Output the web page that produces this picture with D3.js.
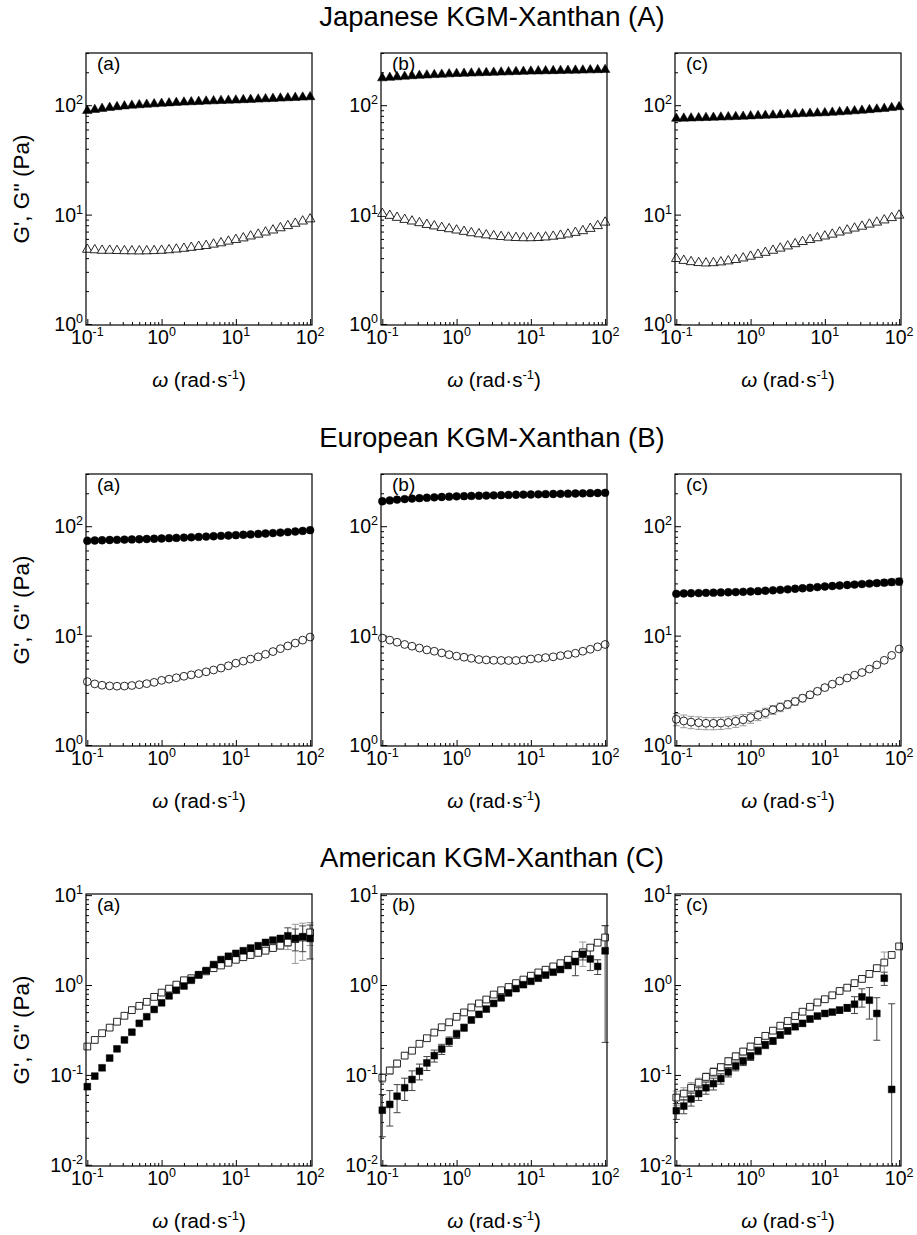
<!DOCTYPE html>
<html><head><meta charset="utf-8">
<script src="https://cdn.jsdelivr.net/npm/d3@7"></script>
<style>
body{margin:0;background:#fff}
text{font-family:"Liberation Sans",Arial,Helvetica,sans-serif;fill:#000}
</style>
</head><body>
<svg id="c" width="917" height="1235"></svg>
<script>
// ---------- data ----------
const freq = [0.1,0.126,0.158,0.2,0.251,0.316,0.398,0.501,0.631,0.794,1,1.26,1.58,2,2.51,3.16,3.98,5.01,6.31,7.94,10,12.6,15.8,20,25.1,31.6,39.8,50.1,63.1,79.4,100];
const rowTitles = ["Japanese KGM-Xanthan (A)", "European KGM-Xanthan (B)", "American KGM-Xanthan (C)"];
const panelLetters = ["(a)", "(b)", "(c)"];
const xTickExp = [-1, 0, 1, 2];
const yTickExpAB = [0, 1, 2];
const yTickExpC = [-2, -1, 0, 1];
const xLabel = ["\u03C9", " (rad\u00B7s", "-1", ")"];
const yLabel = "G', G'' (Pa)";

// Japanese (A)
const A_a_Gp  = [89,91,93,95,96.5,98,99.5,100.5,101.5,102.5,103.5,104.5,105.5,106.3,107,107.8,108.5,109.2,109.9,110.5,111,111.8,112.5,113.2,114,114.8,115.6,116.4,117.2,118,119];
const A_a_Gpp = [4.8,4.75,4.7,4.7,4.68,4.66,4.65,4.64,4.65,4.67,4.7,4.75,4.82,4.9,5.0,5.1,5.2,5.35,5.5,5.7,5.9,6.1,6.35,6.6,6.9,7.2,7.55,7.9,8.3,8.7,9.1];
const A_b_Gp  = [177,179,181,183,185,186.5,188,189.5,191,192.5,194,195,196,197,198,199,200,201,202,203,204,204.7,205.4,206,206.7,207.4,208,208.7,209.4,210.2,211];
const A_b_Gpp = [10.2,9.8,9.4,9.0,8.7,8.4,8.1,7.85,7.6,7.4,7.2,7.0,6.8,6.65,6.5,6.38,6.28,6.2,6.15,6.12,6.12,6.15,6.22,6.32,6.45,6.62,6.85,7.1,7.45,7.9,8.5];
const A_c_Gp  = [75.5,75.8,76.1,76.5,76.8,77.2,77.6,78,78.4,78.9,79.5,80,80.5,81,81.6,82.2,82.8,83.4,84,84.5,85,85.8,86.6,87.5,88.5,89.5,90.6,91.8,93,94.7,96.5];
const A_c_Gpp = [3.95,3.8,3.7,3.63,3.6,3.62,3.68,3.76,3.87,4.0,4.15,4.32,4.5,4.7,4.92,5.15,5.4,5.65,5.9,6.12,6.35,6.6,6.9,7.2,7.5,7.8,8.15,8.5,8.9,9.35,9.85];

// European (B)
const B_a_Gp  = [73.5,74,74.4,74.8,75.1,75.4,75.7,76,76.4,76.8,77.2,77.7,78.2,78.7,79.2,79.8,80.4,81,81.6,82.2,82.8,83.5,84.2,85,85.8,86.6,87.5,88.4,89.4,90.6,92];
const B_a_Gpp = [3.8,3.62,3.52,3.47,3.45,3.46,3.5,3.56,3.64,3.74,3.9,4.0,4.12,4.25,4.38,4.5,4.67,4.85,5.05,5.3,5.6,5.85,6.1,6.4,6.75,7.15,7.6,8.05,8.55,9.1,9.7];
const B_b_Gp  = [169,172,175,177,179,180.5,182,183.5,185,186.3,187.5,188.3,189,189.8,190.6,191.4,192.2,193,193.8,194.5,195,195.7,196.4,197,197.7,198.4,199,199.7,200.4,201.2,202];
const B_b_Gpp = [9.5,9.1,8.7,8.3,8.0,7.7,7.4,7.2,6.95,6.7,6.5,6.35,6.2,6.05,6.0,5.95,5.93,5.92,5.93,6.0,6.12,6.2,6.3,6.4,6.55,6.7,6.9,7.2,7.5,7.9,8.3];
const B_c_Gp  = [24.1,24.3,24.4,24.5,24.6,24.7,24.8,24.9,25.0,25.15,25.3,25.5,25.7,25.95,26.2,26.5,26.8,27.1,27.4,27.75,28.1,28.4,28.7,29,29.3,29.6,29.9,30.2,30.5,30.85,31.2];
const B_c_Gpp = [1.72,1.66,1.62,1.6,1.58,1.58,1.59,1.61,1.65,1.7,1.78,1.87,1.97,2.1,2.22,2.35,2.5,2.68,2.88,3.1,3.35,3.6,3.85,4.1,4.35,4.6,4.95,5.4,5.95,6.6,7.55];
const B_c_Gp_err  = [0.4,0.4,0.4,0.4,0.4,0.4,0.4,0.4,0.4,0.4,0.5,0.5,0.5,0.5,0.5,0.6,0.6,0.6,0.7,0.7,0.8,0.8,0.9,1.0,1.1,1.2,1.3,1.5,1.7,1.9,2.2];
const B_c_Gpp_err = [0.22,0.22,0.21,0.21,0.2,0.2,0.2,0.2,0.2,0.2,0.2,0.2,0.2,0.2,0.2,0.2,0.2,0.2,0.2,0.2,0.2,0.2,0.2,0.2,0.2,0.2,0.2,0.2,0.2,0.25,0.3];

// American (C)
const C_a_Gp  = [0.074,0.097,0.12,0.154,0.195,0.245,0.299,0.375,0.444,0.535,0.634,0.757,0.875,0.975,1.13,1.30,1.45,1.69,1.92,2.09,2.25,2.41,2.58,2.74,2.98,3.16,3.30,3.53,3.3,3.45,3.3];
const C_a_Gpp = [0.207,0.245,0.291,0.336,0.391,0.455,0.526,0.587,0.65,0.738,0.824,0.912,1.01,1.13,1.19,1.30,1.42,1.54,1.65,1.77,1.91,2.04,2.16,2.28,2.41,2.58,2.74,2.98,3.24,3.38,3.85];
const C_a_Gp_err  = [0.005,0.006,0.007,0.008,0.01,0.012,0.014,0.016,0.018,0.02,0.025,0.03,0.03,0.035,0.04,0.04,0.05,0.05,0.06,0.06,0.07,0.08,0.08,0.09,0.1,0.15,0.25,0.8,0.9,1.1,1.35];
const C_a_Gpp_err = [0.01,0.01,0.012,0.012,0.014,0.015,0.016,0.018,0.02,0.02,0.02,0.025,0.025,0.03,0.03,0.03,0.035,0.035,0.04,0.04,0.05,0.05,0.06,0.06,0.08,0.1,0.2,0.5,1.5,1.5,1.1];
const C_b_Gp  = [0.0405,0.047,0.058,0.072,0.089,0.11,0.136,0.164,0.194,0.236,0.284,0.336,0.409,0.472,0.54,0.624,0.72,0.817,0.913,1.01,1.1,1.19,1.29,1.39,1.49,1.65,1.82,2.2,1.95,1.61,2.41];
const C_b_Gpp = [0.093,0.112,0.134,0.164,0.186,0.222,0.256,0.296,0.339,0.385,0.443,0.496,0.563,0.624,0.69,0.784,0.875,0.951,1.05,1.15,1.27,1.38,1.48,1.61,1.75,1.91,2.16,2.31,2.61,2.96,3.38];
const C_b_Gp_err  = [0.02,0.02,0.02,0.02,0.022,0.022,0.024,0.025,0.025,0.028,0.03,0.03,0.03,0.03,0.03,0.03,0.035,0.035,0.04,0.04,0.04,0.05,0.05,0.06,0.08,0.1,0.55,0.3,0.5,0.3,2.18];
const C_b_Gpp_err = [0.01,0.01,0.012,0.012,0.012,0.014,0.015,0.016,0.018,0.02,0.02,0.02,0.025,0.025,0.03,0.03,0.03,0.035,0.035,0.04,0.04,0.05,0.05,0.05,0.06,0.08,0.2,0.7,0.2,0.2,1.17];
const C_c_Gp  = [0.04,0.045,0.054,0.062,0.072,0.08,0.091,0.108,0.125,0.142,0.161,0.186,0.216,0.239,0.279,0.309,0.344,0.375,0.419,0.452,0.483,0.5,0.526,0.558,0.612,0.738,0.678,0.483,1.19,0.069,null];
const C_c_Gpp = [0.056,0.062,0.072,0.082,0.095,0.108,0.122,0.142,0.161,0.182,0.207,0.239,0.272,0.311,0.353,0.398,0.452,0.505,0.573,0.64,0.695,0.769,0.859,0.935,1.05,1.17,1.33,1.54,1.78,2.16,2.69];
const C_c_Gp_err  = [0.008,0.008,0.009,0.01,0.011,0.012,0.012,0.013,0.014,0.015,0.016,0.018,0.02,0.02,0.022,0.024,0.025,0.027,0.03,0.03,0.03,0.03,0.04,0.05,0.13,0.17,0.26,0.24,0.2,0.55,0];
const C_c_Gpp_err = [0.01,0.01,0.01,0.01,0.01,0.012,0.012,0.014,0.015,0.016,0.018,0.02,0.02,0.022,0.025,0.028,0.03,0.03,0.035,0.04,0.04,0.045,0.05,0.06,0.07,0.08,0.1,0.12,0.55,0.1,0.1];

// ---------- layout ----------
const svg = d3.select("#c");
const panelLefts = [86, 381, 675], panelW = 226, panelH = 272;
const rowTops = [53, 474, 894];
const xDomain = [0.096, 106];

const rows = [
  { title: rowTitles[0], sym: d3.symbolTriangle, size: 40, yDom: [0.98, 300], yExp: yTickExpAB,
    panels: [[A_a_Gp, A_a_Gpp, null, null], [A_b_Gp, A_b_Gpp, null, null], [A_c_Gp, A_c_Gpp, null, null]] },
  { title: rowTitles[1], sym: d3.symbolCircle, size: 48, yDom: [0.98, 300], yExp: yTickExpAB,
    panels: [[B_a_Gp, B_a_Gpp, null, null], [B_b_Gp, B_b_Gpp, null, null], [B_c_Gp, B_c_Gpp, B_c_Gp_err, B_c_Gpp_err]] },
  { title: rowTitles[2], sym: d3.symbolSquare, size: 46, yDom: [0.0097, 10.3], yExp: yTickExpC,
    panels: [[C_a_Gp, C_a_Gpp, C_a_Gp_err, C_a_Gpp_err], [C_b_Gp, C_b_Gpp, C_b_Gp_err, C_b_Gpp_err], [C_c_Gp, C_c_Gpp, C_c_Gp_err, C_c_Gpp_err]] }
];

function powText(sel, exp) {
  sel.append("tspan").text("10");
  sel.append("tspan").attr("dy", -8).attr("font-size", 12.5).text(exp);
}

rows.forEach((row, ri) => {
  const top = rowTops[ri];
  svg.append("text").attr("x", 492).attr("y", top - 27).attr("text-anchor", "middle")
    .attr("font-size", 27.5).text(row.title);

  row.panels.forEach((p, pi) => {
    const left = panelLefts[pi];
    const x = d3.scaleLog().domain(xDomain).range([left, left + panelW]);
    const y = d3.scaleLog().domain(row.yDom).range([top + panelH, top]);
    const g = svg.append("g");

    // ticks (inward)
    const xMajor = xTickExp.map(e => Math.pow(10, e));
    const xMinor = x.ticks().filter(v => !xMajor.some(m => Math.abs(v / m - 1) < 1e-6) && v >= 0.1 && v <= 100);
    const yMajor = row.yExp.map(e => Math.pow(10, e));
    const yMinor = y.ticks().filter(v => !yMajor.some(m => Math.abs(v / m - 1) < 1e-6));
    const bottom = top + panelH;
    const axStyle = s => { s.select(".domain").remove(); s.selectAll("line").attr("stroke", "#000").attr("stroke-width", 1); s.selectAll("text").remove(); };
    g.append("g").attr("transform", `translate(0,${bottom})`).call(d3.axisBottom(x).tickValues(xMajor).tickSize(-6)).call(axStyle);
    g.append("g").attr("transform", `translate(0,${bottom})`).call(d3.axisBottom(x).tickValues(xMinor).tickSize(-3)).call(axStyle);
    g.append("g").attr("transform", `translate(${left},0)`).call(d3.axisLeft(y).tickValues(yMajor).tickSize(-6)).call(axStyle);
    g.append("g").attr("transform", `translate(${left},0)`).call(d3.axisLeft(y).tickValues(yMinor).tickSize(-3)).call(axStyle);

    // tick labels
    xTickExp.forEach(e => {
      const t = g.append("text").attr("x", x(Math.pow(10, e))).attr("y", bottom + 19)
        .attr("text-anchor", "middle").attr("font-size", 19.5);
      powText(t, e);
    });
    row.yExp.forEach(e => {
      const t = g.append("text").attr("x", left - 3).attr("y", y(Math.pow(10, e)) + 7)
        .attr("text-anchor", "end").attr("font-size", 19.5);
      powText(t, e);
    });

    // error bars
    const [gp, gpp, gpErr, gppErr] = p;
    const drawErr = (vals, errs, color) => {
      if (!errs) return;
      vals.forEach((v, i) => {
        const e = errs[i];
        if (v == null || !e) return;
        const cx = x(freq[i]);
        const hi = v + e, lo = v - e;
        const yHi = Math.max(y(hi), top);
        const yLo = lo > row.yDom[0] ? y(lo) : bottom;
        g.append("line").attr("x1", cx).attr("x2", cx).attr("y1", yHi).attr("y2", yLo)
          .attr("stroke", color).attr("stroke-width", 1);
        if (y(hi) >= top) g.append("line").attr("x1", cx - 3.5).attr("x2", cx + 3.5).attr("y1", yHi).attr("y2", yHi).attr("stroke", color);
        if (lo > row.yDom[0]) g.append("line").attr("x1", cx - 3.5).attr("x2", cx + 3.5).attr("y1", yLo).attr("y2", yLo).attr("stroke", color);
      });
    };
    drawErr(gpp, gppErr, "#999");
    drawErr(gp, gpErr, "#444");

    const sym = d3.symbol().type(row.sym).size(row.size);
    // G'' open
    g.selectAll(null).data(gpp.map((v, i) => [freq[i], v]).filter(d => d[1] != null)).join("path")
      .attr("d", sym).attr("transform", d => `translate(${x(d[0])},${y(d[1])})`)
      .attr("fill", "#fff").attr("stroke", "#111").attr("stroke-width", 0.9);
    // G' filled
    g.selectAll(null).data(gp.map((v, i) => [freq[i], v]).filter(d => d[1] != null)).join("path")
      .attr("d", sym).attr("transform", d => `translate(${x(d[0])},${y(d[1])})`)
      .attr("fill", "#000").attr("stroke", "#000").attr("stroke-width", 0.5);

    // frame
    g.append("rect").attr("x", left).attr("y", top).attr("width", panelW).attr("height", panelH)
      .attr("fill", "none").attr("stroke", "#000").attr("stroke-width", 1.2);

    // panel letter
    g.append("text").attr("x", left + 11).attr("y", top + 17).attr("font-size", 19).text(panelLetters[pi]);

    // x label
    const xl = g.append("text").attr("x", left + panelW / 2).attr("y", bottom + 62)
      .attr("text-anchor", "middle").attr("font-size", 20.5);
    xl.append("tspan").attr("font-style", "italic").text(xLabel[0]);
    xl.append("tspan").text(xLabel[1]);
    xl.append("tspan").attr("dy", -8).attr("font-size", 13).text(xLabel[2]);
    xl.append("tspan").attr("dy", 8).text(xLabel[3]);

    // y label
    if (pi === 0) {
      g.append("text").attr("transform", `translate(29,${top + panelH / 2}) rotate(-90)`)
        .attr("text-anchor", "middle").attr("font-size", 22.5).text(yLabel);
    }
  });
});
</script>
</body></html>
